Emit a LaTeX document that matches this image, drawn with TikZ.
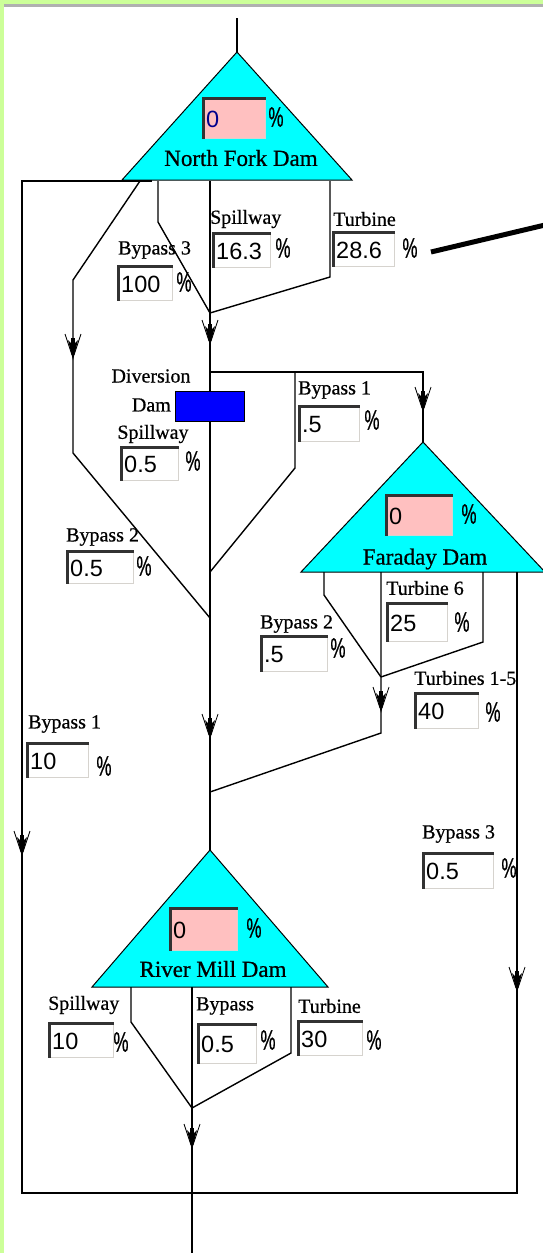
\documentclass[tikz,border=0pt]{standalone}
\usepackage{fontspec}
\usepackage{graphicx}
\setmainfont{Liberation Serif}
\newfontfamily\lblfont[FakeBold=0.6]{Liberation Serif}
\newfontfamily\numfont{Liberation Sans}
\newfontfamily\pctfont[FakeBold=1]{Liberation Sans}
\usetikzlibrary{calc}
\definecolor{bggreen}{RGB}{204,255,153}
\definecolor{damcyan}{RGB}{0,255,255}
\definecolor{boxpink}{RGB}{255,192,192}
\definecolor{divblue}{RGB}{0,0,255}
\definecolor{shadowgray}{RGB}{176,176,176}
\definecolor{boxlight}{RGB}{214,211,206}
\definecolor{boxdark}{RGB}{50,50,50}
\definecolor{navytext}{RGB}{0,0,140}
\newcommand{\pctsign}{\scalebox{0.6}[1]{\%}}
\newcommand{\valbox}[7]{%
  \node[boxnode, fill=#7, minimum width=#4pt, minimum height=#5pt, anchor=north west] (#1) at (#2,#3) {};
  \draw[boxdark, line width=2.5pt] ($(#1.south west)+(1.25,-0.5)$) -- ($(#1.north west)+(1.25,1.25)$) -- ($(#1.north east)+(-0.5,1.25)$);
  \node[numtxt] (#1t) at ($(#1.west)+(4,1)$) {#6};
}
\tikzset{
  flowarrow/.pic={
    \fill (-5,-20) -- (0,0) -- (5,-20) -- (0,-15) -- cycle;
    \fill (-2,-22) rectangle (2,-6);
    \draw[line width=0.8pt] (-8,-26) -- (-1,-5);
    \draw[line width=0.8pt] (8,-26) -- (1,-5);
  }
}
\begin{document}
\begin{tikzpicture}[x=1pt,y=-1pt,
  flow/.style={line width=1.4pt, line join=miter},
  damfill/.style={fill=damcyan, draw=black, line width=1pt},
  lbl/.style={font=\lblfont\fontsize{20}{22}\selectfont, inner sep=0pt, anchor=west},
  lblc/.style={font=\lblfont\fontsize{20}{22}\selectfont, inner sep=0pt},
  damlbl/.style={font=\lblfont\fontsize{23}{26}\selectfont, inner sep=0pt},
  pct/.style={font=\pctfont\fontsize{28}{30}\selectfont, inner sep=0pt},
  numtxt/.style={font=\numfont\fontsize{23.5}{26}\selectfont, inner sep=0pt, anchor=west},
  boxnode/.style={draw=boxlight, line width=1pt, inner sep=0pt, rectangle},
]
\useasboundingbox (0,0) rectangle (543,1253);
\fill[white] (0,0) rectangle (543,1253);
\fill[bggreen] (0,0) rectangle (4,1253);
\fill[bggreen] (0,0) rectangle (543,3.5);
\fill[shadowgray] (4,3.5) rectangle (543,7);

% dam triangles
\coordinate (nfIn) at (237,18);
\coordinate (nfA) at (237,52);
\coordinate (nfL) at (122,180);
\coordinate (nfR) at (352,180);
\coordinate (fdA) at (423,442);
\coordinate (fdL) at (301,572);
\coordinate (fdR) at (545,572);
\coordinate (rmA) at (210,850);
\coordinate (rmL) at (92,987);
\coordinate (rmR) at (328,987);
\filldraw[damfill] (nfA) -- (nfL) -- (nfR) -- cycle;
\filldraw[damfill] (fdA) -- (fdL) -- (fdR) -- cycle;
\filldraw[damfill] (rmA) -- (rmL) -- (rmR) -- cycle;

% flow lines
\draw[flow] (nfIn) -- (nfA);
\coordinate (o1) at (152,181);
\coordinate (o2) at (22,181);
\coordinate (o3) at (22,1193);
\coordinate (o4) at (517,1193);
\coordinate (o5) at (517,572);
\draw[flow] (o1) -- (o2) -- (o3) -- (o4) -- (o5);
\coordinate (b3a) at (140,181);
\coordinate (b3b) at (73,280);
\coordinate (b3c) at (73,453);
\coordinate (j2) at (210,618);
\draw[flow] (b3a) -- (b3b) -- (b3c) -- (j2);
\coordinate (s1) at (158,181);
\coordinate (s2) at (158,222);
\coordinate (j1) at (210,313);
\draw[flow] (s1) -- (s2) -- (j1);
\coordinate (m0) at (210,181);
\draw[flow] (m0) -- (rmA);
\coordinate (t1) at (330,181);
\coordinate (t2) at (330,277);
\draw[flow] (t1) -- (t2) -- (j1);
\coordinate (dv) at (210,372);
\coordinate (dvR) at (423,372);
\draw[flow] (dv) -- (dvR) -- (fdA);
\coordinate (b1a) at (295,372);
\coordinate (b1b) at (295,468);
\coordinate (j3) at (210,572);
\draw[flow] (b1a) -- (b1b) -- (j3);
\coordinate (f1) at (324,572);
\coordinate (f2) at (324,595);
\coordinate (fj) at (381,677);
\draw[flow] (f1) -- (f2) -- (fj);
\coordinate (f3) at (381,572);
\coordinate (f4) at (381,733);
\coordinate (j4) at (210,792);
\draw[flow] (f3) -- (f4) -- (j4);
\coordinate (f5) at (483,572);
\coordinate (f6) at (483,642);
\draw[flow] (f5) -- (f6) -- (fj);
\coordinate (r1) at (131,987);
\coordinate (r2) at (131,1022);
\coordinate (rj) at (192,1108);
\draw[flow] (r1) -- (r2) -- (rj);
\coordinate (r3) at (192,987);
\coordinate (rOut) at (192,1253);
\draw[flow] (r3) -- (rOut);
\coordinate (r4) at (291,987);
\coordinate (r5) at (291,1053);
\draw[flow] (r4) -- (r5) -- (rj);
\coordinate (k1) at (431,252);
\coordinate (k2) at (545,225);
\draw[line width=5pt] (k1) -- (k2);

% arrows
\pic at (73,360) {flowarrow};
\pic at (210,346) {flowarrow};
\pic at (423,413) {flowarrow};
\pic at (210,740) {flowarrow};
\pic at (381,713) {flowarrow};
\pic at (22,857) {flowarrow};
\pic at (517,993) {flowarrow};
\pic at (192,1150) {flowarrow};

% diversion dam
\node[draw=black, fill=divblue, line width=1pt, minimum width=69pt, minimum height=30pt, anchor=north west, inner sep=0pt] (dvdam) at (175,391) {};

% value boxes
\valbox{nfv}{202}{97}{63}{41}{\color{navytext}0}{boxpink}
\valbox{nfs}{212}{232}{58}{35}{16.3}{white}
\valbox{nft}{332}{231}{62}{35}{28.6}{white}
\valbox{nfb}{117}{265}{55}{35}{100}{white}
\valbox{dvs}{120}{446}{58}{34}{0.5}{white}
\valbox{dvb}{298}{405}{61}{36}{.5}{white}
\valbox{dvbb}{66}{550}{67}{33}{0.5}{white}
\valbox{fdv}{385}{494}{67}{41}{0}{boxpink}
\valbox{fdts}{386}{602}{61}{39}{25}{white}
\valbox{fdb}{260}{635}{67}{36}{.5}{white}
\valbox{fdt}{414}{692}{64}{36}{40}{white}
\valbox{oba}{26}{742}{62}{35}{10}{white}
\valbox{obc}{422}{852}{71}{36}{0.5}{white}
\valbox{rmv}{169}{907}{68}{43}{0}{boxpink}
\valbox{rms}{48}{1022}{65}{35}{10}{white}
\valbox{rmb}{197}{1023}{59}{40}{0.5}{white}
\valbox{rmt}{297}{1020}{65}{35}{30}{white}

% percent signs
\node[pct] (pnfv) at (276,117) {\pctsign};
\node[pct] (pnfs) at (283,248) {\pctsign};
\node[pct] (pnft) at (410,248) {\pctsign};
\node[pct] (pnfb) at (184,282) {\pctsign};
\node[pct] (pdvs) at (193,461) {\pctsign};
\node[pct] (pdvb) at (372,420) {\pctsign};
\node[pct] (pdvbb) at (144,566) {\pctsign};
\node[pct] (pfdv) at (469,514) {\pctsign};
\node[pct] (pfdts) at (462,622) {\pctsign};
\node[pct] (pfdb) at (338,648) {\pctsign};
\node[pct] (pfdt) at (493,712) {\pctsign};
\node[pct] (poba) at (104,766) {\pctsign};
\node[pct] (pobc) at (509,868) {\pctsign};
\node[pct] (prmv) at (254,928) {\pctsign};
\node[pct] (prms) at (121,1042) {\pctsign};
\node[pct] (prmb) at (268,1040) {\pctsign};
\node[pct] (prmt) at (374,1040) {\pctsign};

% labels
\node[damlbl] (lnf) at (241,158) {North Fork Dam};
\node[damlbl] (lfd) at (425,559) {Faraday Dam};
\node[damlbl] (lrm) at (213,969) {River Mill Dam};
\node[lbl] (lnfs) at (210,219) {Spillway};
\node[lbl] (lnft) at (333,219) {Turbine};
\node[lbl] (lnfb) at (118,250) {Bypass 3};
\node[lblc] (ldiv) at (151,376) {Diversion};
\node[lblc, anchor=east] (ldam) at (171,405) {Dam};
\node[lblc] (ldvs) at (153,434) {Spillway};
\node[lbl] (ldvb) at (298,390) {Bypass 1};
\node[lbl] (ldvbb) at (66,537) {Bypass 2};
\node[lbl] (lfdts) at (386,588) {Turbine 6};
\node[lbl] (lfdb) at (260,624) {Bypass 2};
\node[lbl] (lfdt) at (414,678) {Turbines 1-5};
\node[lbl] (loba) at (28,724) {Bypass 1};
\node[lbl] (lobc) at (422,834) {Bypass 3};
\node[lbl] (lrms) at (48,1005) {Spillway};
\node[lbl] (lrmb) at (196,1006) {Bypass};
\node[lbl] (lrmt) at (298,1006) {Turbine};
\end{tikzpicture}
\end{document}
